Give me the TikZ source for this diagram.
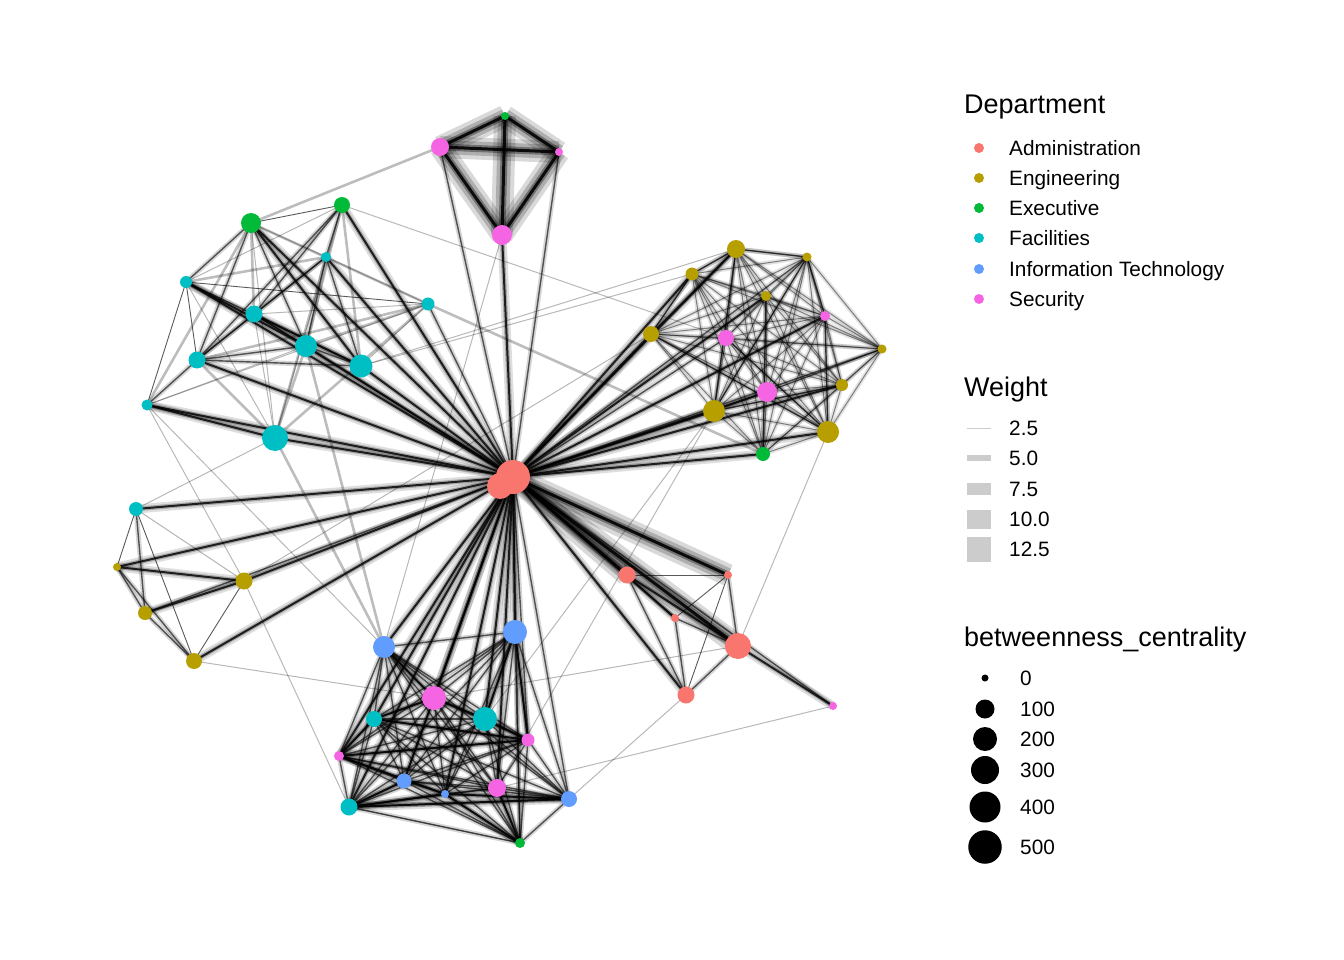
\documentclass[tikz,border=0pt]{standalone}
\usepackage{fontspec}
\setmainfont{Liberation Sans}
\pgfdeclarelayer{edgelayer}
\pgfsetlayers{edgelayer,main}
\definecolor{cAdm}{HTML}{F8766D}
\definecolor{cEng}{HTML}{B79F00}
\definecolor{cExe}{HTML}{00BA38}
\definecolor{cFac}{HTML}{00BFC4}
\definecolor{cIT}{HTML}{619CFF}
\definecolor{cSec}{HTML}{F564E3}
\newcommand\vtx[5]{\node[vtx,fill=#4,minimum size=#5pt] (#1) at (#2,#3) {};}
\begin{document}
\begin{tikzpicture}[x=1pt,y=-1pt,
 vtx/.style={circle,inner sep=0pt,outer sep=0pt,draw=none},
 lab/.style={anchor=base west,inner sep=0pt,font=\fontsize{20.8}{24}\selectfont},
 ttl/.style={anchor=base west,inner sep=0pt,font=\fontsize{27}{30}\selectfont},
 eL/.style={line width=1pt,draw=black,draw opacity=.28},
 eT/.style={line width=0.9pt,draw=black,draw opacity=.65},
 eG/.style={line width=2.6pt,draw=black,draw opacity=.26},
 eR/.style={preaction={draw=black,line width=4.5pt,draw opacity=.11},line width=1pt,draw=black,draw opacity=.45},
 eM/.style={preaction={draw=black,line width=5pt,draw opacity=.16},line width=1.4pt,draw=black,draw opacity=.62},
 eH/.style={preaction={draw=black,line width=9pt,draw opacity=.13},preaction={draw=black,line width=4.5pt,draw opacity=.24},line width=2pt,draw=black,draw opacity=.82},
 eX/.style={preaction={draw=black,line width=22pt,draw opacity=.15},preaction={draw=black,line width=14pt,draw opacity=.2},preaction={draw=black,line width=7pt,draw opacity=.35},line width=3pt,draw=black,draw opacity=.9},
 wkey/.style={fill=black!20,draw=none}
]
\useasboundingbox (0,0) rectangle (1344,960);

% ---- vertices ----
\vtx{H2}{500}{486}{cAdm}{26}
\vtx{H}{513}{477}{cAdm}{34}
\vtx{P1}{440}{147}{cSec}{18}
\vtx{G1}{505}{116}{cExe}{8}
\vtx{P2}{559}{152}{cSec}{8}
\vtx{P3}{502}{235}{cSec}{20}
\vtx{E1}{736}{249}{cEng}{18}
\vtx{E2}{807}{257}{cEng}{9}
\vtx{E3}{692}{274}{cEng}{13}
\vtx{E4}{766}{296}{cEng}{10}
\vtx{P4}{825}{316}{cSec}{10}
\vtx{E5}{651}{334}{cEng}{16}
\vtx{P5}{726}{338}{cSec}{16}
\vtx{E6}{882}{349}{cEng}{9}
\vtx{E7}{842}{385}{cEng}{12}
\vtx{P6}{767}{392}{cSec}{20}
\vtx{E8}{714}{411}{cEng}{22}
\vtx{E9}{828}{432}{cEng}{22}
\vtx{G2}{763}{454}{cExe}{14}
\vtx{G3}{342}{205}{cExe}{16}
\vtx{G4}{251}{223}{cExe}{20}
\vtx{C2}{326}{257}{cFac}{10}
\vtx{C3}{186}{282}{cFac}{12}
\vtx{C1}{428}{304}{cFac}{13}
\vtx{C5}{254}{314}{cFac}{17}
\vtx{C6}{306}{346}{cFac}{22}
\vtx{C7}{197}{360}{cFac}{17}
\vtx{C8}{361}{366}{cFac}{23}
\vtx{C9}{147}{405}{cFac}{11}
\vtx{C10}{275}{438}{cFac}{26}
\vtx{C11}{136}{509}{cFac}{14}
\vtx{E10}{117}{567}{cEng}{8}
\vtx{E11}{244}{581}{cEng}{17}
\vtx{E12}{145}{613}{cEng}{14}
\vtx{E13}{194}{661}{cEng}{16}
\vtx{B1}{384}{647}{cIT}{22}
\vtx{B2}{515}{632}{cIT}{24}
\vtx{P7}{434}{698}{cSec}{24}
\vtx{C12}{374}{719}{cFac}{16}
\vtx{C13}{485}{719}{cFac}{24}
\vtx{P8}{528}{740}{cSec}{13}
\vtx{P9}{339}{756}{cSec}{10}
\vtx{B3}{404}{781}{cIT}{15}
\vtx{B4}{445}{794}{cIT}{8}
\vtx{P10}{497}{788}{cSec}{18}
\vtx{B5}{569}{799}{cIT}{16}
\vtx{C14}{349}{807}{cFac}{17}
\vtx{G5}{520}{843}{cExe}{10}
\vtx{A1}{627}{575}{cAdm}{17}
\vtx{A2}{728}{575}{cAdm}{8}
\vtx{A3}{675}{618}{cAdm}{8}
\vtx{A4}{738}{646}{cAdm}{26}
\vtx{A5}{686}{695}{cAdm}{17}
\vtx{P11}{833}{706}{cSec}{8}

% ---- edges ----
\begin{pgfonlayer}{edgelayer}
% hub fan
\foreach \n/\s in {P1/eM,P2/eM,P3/eH,
  C3/eH,C5/eM,C6/eH,C7/eH,C8/eH,C9/eH,C10/eH,C2/eH,G3/eH,G4/eH,C1/eM,
  C11/eH,E10/eH,E11/eH,E12/eM,E13/eH,
  B1/eH,B2/eH,P7/eH,C12/eH,C13/eH,P8/eM,P9/eH,B3/eH,B4/eH,P10/eH,B5/eM,C14/eH,G5/eM,
  A1/eX,A2/eX,A3/eH,A4/eX,A5/eH,P11/eM,
  E5/eH,E3/eH,E1/eH,E8/eH,G2/eH,E9/eH,E7/eH,E6/eM,P6/eH,P5/eM,P4/eH,E2/eM,E4/eH}
  \draw[\s] (H.center) -- (\n.center);
% top security cluster
\foreach \a/\b in {P1/G1,P1/P2,P1/P3,G1/P2,G1/P3,P2/P3}
  \draw[eX] (\a.center) -- (\b.center);
% left top cluster
\foreach \a/\b/\s in {G4/G3/eT,G4/C3/eM,G4/C5/eG,G4/C7/eM,G4/C9/eG,G4/C10/eL,G4/C6/eM,G4/C8/eH,G4/C2/eL,G4/C1/eG,
  G3/C2/eM,G3/C5/eM,G3/C6/eG,G3/C7/eM,G3/C8/eG,G3/C10/eL,G3/C3/eL,
  C3/C7/eT,C3/C9/eT,C3/C6/eH,C3/C8/eM,C3/C2/eG,C3/C1/eT,C3/C10/eL,C3/C5/eL,
  C5/C2/eM,C5/C6/eM,C5/C8/eH,C5/C7/eM,C5/C1/eL,C5/C10/eL,
  C2/C8/eM,C2/C6/eM,C2/C7/eM,C2/C10/eG,C2/C1/eL,
  C7/C6/eM,C7/C8/eM,C7/C1/eG,C7/C9/eM,C7/C10/eG,
  C9/C10/eH,C9/C1/eL,C9/C6/eL,
  C10/C1/eG,C10/C6/eG,C6/C8/eM,C6/C1/eG,C8/C1/eL}
  \draw[\s] (\a.center) -- (\b.center);
% left bottom cluster
\foreach \a/\b/\s in {C11/E10/eT,C11/E12/eM,C11/E13/eT,C11/E11/eL,C11/C10/eL,
  E10/E11/eH,E10/E12/eM,E10/E13/eM,E12/E11/eH,E12/E13/eM,E11/E13/eT}
  \draw[\s] (\a.center) -- (\b.center);
% right engineering cluster
\foreach \a [count=\i] in {E1,E2,E3,E4,P4,E5,P5,E6,E7,P6,E8,E9,G2}{
  \foreach \b [count=\j] in {E1,E2,E3,E4,P4,E5,P5,E6,E7,P6,E8,E9,G2}{
    \ifnum\j>\i \draw[eR] (\a.center) -- (\b.center);\fi}}
\foreach \a/\b in {E1/E2,E1/E3,E3/E5,E1/E5,E2/P4,P4/E9,E5/E9,E8/E1,E2/E8,P5/E9,E7/E8,G2/E4}
  \draw[eM] (\a.center) -- (\b.center);
% bottom cluster
\foreach \a [count=\i] in {B1,B2,P7,C12,C13,P8,P9,B3,B4,P10,B5,C14,G5}{
  \foreach \b [count=\j] in {B1,B2,P7,C12,C13,P8,P9,B3,B4,P10,B5,C14,G5}{
    \ifnum\j>\i \draw[eM] (\a.center) -- (\b.center);\fi}}
\foreach \a/\b in {C14/B3,C14/B4,C14/B5,P9/B4,P9/P8,P9/C12,B4/B5,B4/G5,P10/G5,C13/P8,P7/C13,P7/C12,C12/P8,B1/P7,B2/C13,B2/P8}
  \draw[eH] (\a.center) -- (\b.center);
% admin cluster
\foreach \a/\b/\s in {A1/A2/eT,A1/A4/eH,A1/A5/eM,A1/A3/eM,A2/A3/eT,A2/A4/eM,A2/A5/eT,A3/A5/eM,A3/A4/eM,A4/A5/eM,A4/P11/eH}
  \draw[\s] (\a.center) -- (\b.center);
% long cross edges
\foreach \a/\b/\s in {P1/G4/eG,G3/P5/eL,C1/G2/eG,E1/C8/eL,E3/C8/eL,E5/E11/eL,E8/C13/eL,E8/P10/eL,
  E9/A4/eL,A4/P7/eL,E13/P7/eL,A5/B5/eL,P11/P10/eL,C9/B1/eL,C10/B1/eG,C6/B1/eG,P3/B1/eL,
  C9/E11/eL,E11/C14/eL,C14/G5/eL}
  \draw[\s] (\a.center) -- (\b.center);
\end{pgfonlayer}

% ---- legend: Department ----
\node[ttl] (tDept) at (964,114) {Department};
\foreach \c/\t/\y [count=\k] in {cAdm/Administration/148,cEng/Engineering/178,cExe/Executive/208,cFac/Facilities/238,cIT/Information Technology/269,cSec/Security/299}{
  \node[vtx,fill=\c,minimum size=10pt] (kd\k) at (979,\y) {};
  \node[lab] (ld\k) at (1009,\y+7.3) {\t};
}
% ---- legend: Weight ----
\node[ttl] (tW) at (964,396) {Weight};
\foreach \h/\t/\y [count=\k] in {1/2.5/428,6/5.0/458,12/7.5/489,19/10.0/519,25/12.5/549}{
  \node[wkey,minimum width=24pt,minimum height=\h pt,inner sep=0pt] (kw\k) at (979,\y) {};
  \node[lab] (lw\k) at (1009,\y+7.3) {\t};
}
% ---- legend: betweenness ----
\node[ttl] (tB) at (964,646) {betweenness\_centrality};
\foreach \r/\t/\y [count=\k] in {7/0/678,19/100/709,24/200/739,28/300/770,31/400/807,33.5/500/847}{
  \node[vtx,fill=black,minimum size=\r pt] (kb\k) at (985,\y) {};
  \node[lab] (lb\k) at (1020,\y+7.3) {\t};
}
\end{tikzpicture}
\end{document}
